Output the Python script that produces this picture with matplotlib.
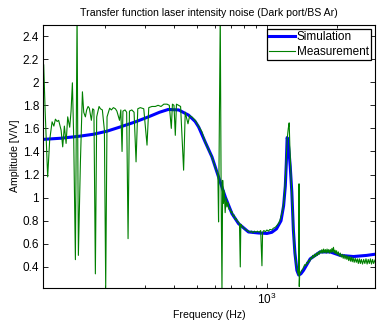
import numpy as np
import matplotlib
matplotlib.use("Agg")
import matplotlib.pyplot as plt
from matplotlib.ticker import FixedLocator, NullFormatter, LogLocator, FormatStrFormatter

plt.rcParams['font.family'] = ['Liberation Sans', 'DejaVu Sans']

sim_freq = [109, 130, 157, 180, 205, 234, 270, 309, 345, 376, 417, 460, 491, 508,
            543, 580, 619, 662, 707, 755, 833, 920, 1000, 1050, 1100, 1150, 1180,
            1200, 1212, 1222, 1232, 1245, 1260, 1280, 1300, 1320, 1346, 1370, 1400,
            1437, 1536, 1695, 1872, 2067, 2358, 2692, 2920]
sim_amp = [1.505, 1.515, 1.533, 1.55, 1.576, 1.613, 1.655, 1.70, 1.74, 1.764, 1.76,
           1.715, 1.66, 1.613, 1.48, 1.353, 1.18, 1.006, 0.862, 0.775, 0.703, 0.694,
           0.69, 0.70, 0.73, 0.80, 0.93, 1.10, 1.30, 1.52, 1.50, 1.40, 1.27, 1.05,
           0.72, 0.52, 0.37, 0.33, 0.34, 0.37, 0.47, 0.53, 0.53, 0.50, 0.49, 0.50, 0.51]

# measurement, below ~1.4 kHz
meas_freq_lo = [109.4, 111, 113.8, 116.1, 118.9, 121, 122.9, 125, 126.9, 130, 132.1, 134.3,
                136.6, 138.8, 141.6, 143.5, 145.4, 147.3, 149.8, 152.3, 154.3, 157.4, 160.6,
                162.7, 165.4, 167.5, 169.9, 172, 173.8, 175.5, 177.8, 180, 182.6, 185, 189.4,
                192, 195.7, 199.7, 202.3, 205, 210.4, 214, 218.3, 222.7, 226, 232, 235,
                237.9, 240, 245, 249, 252.5, 256, 262, 268, 273.3, 278, 285, 295, 304.7, 310,
                320, 330.8, 340, 350, 360, 371.4, 380, 387.6, 392, 398, 403.3, 408, 416.7,
                425, 437.9, 445, 457.3, 465, 475, 491.4, 508, 525.2, 543, 560, 580, 600, 615,
                619.2, 622, 629.7, 635, 640.5, 645, 650, 655, 661, 668, 673, 680, 686, 693,
                700, 707, 715, 722, 730, 738, 746, 755, 762, 768, 772, 780, 790, 800, 810,
                820, 833, 845, 858, 870, 884, 897, 910, 925, 940, 952, 958, 970, 985, 1000,
                1015, 1030, 1050, 1065, 1080, 1095, 1110, 1125, 1140, 1155, 1170, 1185, 1200,
                1212, 1224, 1236, 1247, 1255, 1265, 1275, 1288, 1300, 1315, 1330, 1348, 1362,
                1372, 1375, 1378, 1384, 1395, 1410, 1425]
meas_amp_lo = [2.15, 1.75, 1.18, 1.50, 1.657, 1.62, 1.68, 1.66, 1.67, 1.585, 1.44, 1.62,
               1.47, 1.70, 1.61, 1.75, 1.995, 1.52, 0.463, 2.6, 0.50, 1.30, 1.917,
               1.74, 1.70, 1.76, 1.79, 1.775, 1.72, 1.67, 1.77, 1.76, 0.34, 1.70, 1.79,
               1.77, 1.76, 1.585, 0.22, 1.70, 1.775, 1.76, 1.78, 1.77, 1.75, 1.67, 1.76,
               1.40, 1.75, 1.76, 1.74, 0.645, 1.75, 1.76, 1.74, 1.31, 1.77, 1.78, 1.77, 1.455, 1.78,
               1.79, 1.79, 1.80, 1.79, 1.81, 1.81, 1.80, 1.60, 1.81, 1.80, 1.54, 1.81, 1.80,
               1.79, 1.238, 1.74, 1.64, 1.71, 1.70, 1.67, 1.62, 1.57, 1.48, 1.42, 1.35, 1.26, 1.20,
               0.79, 1.25, 2.6, 1.10, 0.2, 1.15, 0.95, 1.06, 0.87, 1.00, 0.92, 0.96, 0.90, 0.91,
               0.87, 0.88, 0.84, 0.85, 0.81, 0.82, 0.79, 0.79, 0.77, 0.40, 0.77, 0.75, 0.745, 0.73, 0.725,
               0.715, 0.71, 0.70, 0.71, 0.695, 0.71, 0.70, 0.71, 0.70, 0.715, 0.41, 0.70, 0.715, 0.705, 0.72,
               0.71, 0.725, 0.72, 0.735, 0.74, 0.75, 0.765, 0.78, 0.81, 0.85, 0.90, 0.98, 1.15,
               1.35, 1.52, 1.60, 1.648, 1.45, 1.28, 1.10, 0.92, 0.72, 0.55, 0.45, 0.38, 0.34,
               0.33, 1.12, 0.23, 0.34, 0.35, 0.37, 0.38]

# measurement, above ~1.4 kHz (noisy tail)
meas_freq_hi = [1440, 1455, 1470, 1485, 1500, 1515, 1530, 1545, 1560, 1575, 1590, 1605,
                1620, 1635, 1650, 1665, 1680, 1695, 1710, 1725, 1740, 1755, 1770, 1785,
                1800, 1815, 1830, 1845, 1860, 1875, 1890, 1905, 1920, 1934, 1950, 1965,
                1980, 1995, 2010, 2030, 2050, 2070, 2090, 2110, 2130, 2150, 2170, 2190,
                2210, 2230, 2250, 2270, 2290, 2310, 2330, 2350, 2375, 2400, 2425, 2450,
                2475, 2500, 2525, 2550, 2580, 2610, 2640, 2670, 2700, 2730, 2760, 2790,
                2820, 2850, 2880, 2920]
meas_amp_hi = [0.40, 0.42, 0.41, 0.44, 0.43, 0.46, 0.45, 0.48, 0.47, 0.50, 0.48, 0.51,
               0.49, 0.52, 0.50, 0.53, 0.51, 0.54, 0.52, 0.55, 0.52, 0.555, 0.525, 0.55,
               0.52, 0.555, 0.525, 0.55, 0.52, 0.55, 0.525, 0.56, 0.53, 0.57, 0.52, 0.545,
               0.515, 0.54, 0.505, 0.53, 0.495, 0.52, 0.485, 0.51, 0.475, 0.505, 0.47, 0.50,
               0.465, 0.495, 0.455, 0.49, 0.45, 0.485, 0.445, 0.48, 0.44, 0.475, 0.44, 0.47,
               0.43, 0.47, 0.43, 0.465, 0.425, 0.465, 0.43, 0.47, 0.425, 0.465, 0.43, 0.47,
               0.425, 0.465, 0.43, 0.46]

meas_freq = meas_freq_lo + meas_freq_hi
meas_amp = meas_amp_lo + meas_amp_hi

fig = plt.figure(figsize=(3.78, 3.22), dpi=100)
ax = fig.add_axes([0.1146, 0.1065, 0.8775, 0.8174])

ax.semilogx(sim_freq, sim_amp, color=(0, 0, 1), lw=2.2, label='Simulation')
ax.semilogx(meas_freq, meas_amp, color=(0, 0.5, 0), lw=0.8, label='Measurement')

ax.set_xlim(109, 2920)
ax.set_ylim(0.22, 2.5)
ax.yaxis.set_major_locator(FixedLocator([0.4, 0.6, 0.8, 1.0, 1.2, 1.4, 1.6, 1.8, 2.0, 2.2, 2.4]))
ax.yaxis.set_major_formatter(FormatStrFormatter('%g'))
ax.xaxis.set_major_locator(LogLocator(base=10))
ax.xaxis.set_minor_locator(LogLocator(base=10, subs=np.arange(2, 10)))
ax.xaxis.set_minor_formatter(NullFormatter())

ax.tick_params(which='both', direction='in', top=True, right=True, labelsize=8.5, width=0.6)
ax.tick_params(which='major', length=3.5, pad=3)
ax.tick_params(which='minor', length=2.5)
for s in ax.spines.values():
    s.set_linewidth(0.8)

ax.set_title('Transfer function laser intensity noise (Dark port/BS Ar)', fontsize=7.6, pad=6)
ax.set_xlabel('Frequency (Hz)', fontsize=7.6, labelpad=2)
ax.set_ylabel('Amplitude [V/V]', fontsize=7.6, labelpad=2)

leg = ax.legend(loc='upper right', bbox_to_anchor=(0.988, 0.983), borderaxespad=0,
                fontsize=8.5, fancybox=False, framealpha=1, edgecolor='black',
                handlelength=2.2, handletextpad=0.15, borderpad=0.2, labelspacing=0.2)
leg.get_frame().set_linewidth(0.9)

fig.savefig('out.png', dpi=100)
